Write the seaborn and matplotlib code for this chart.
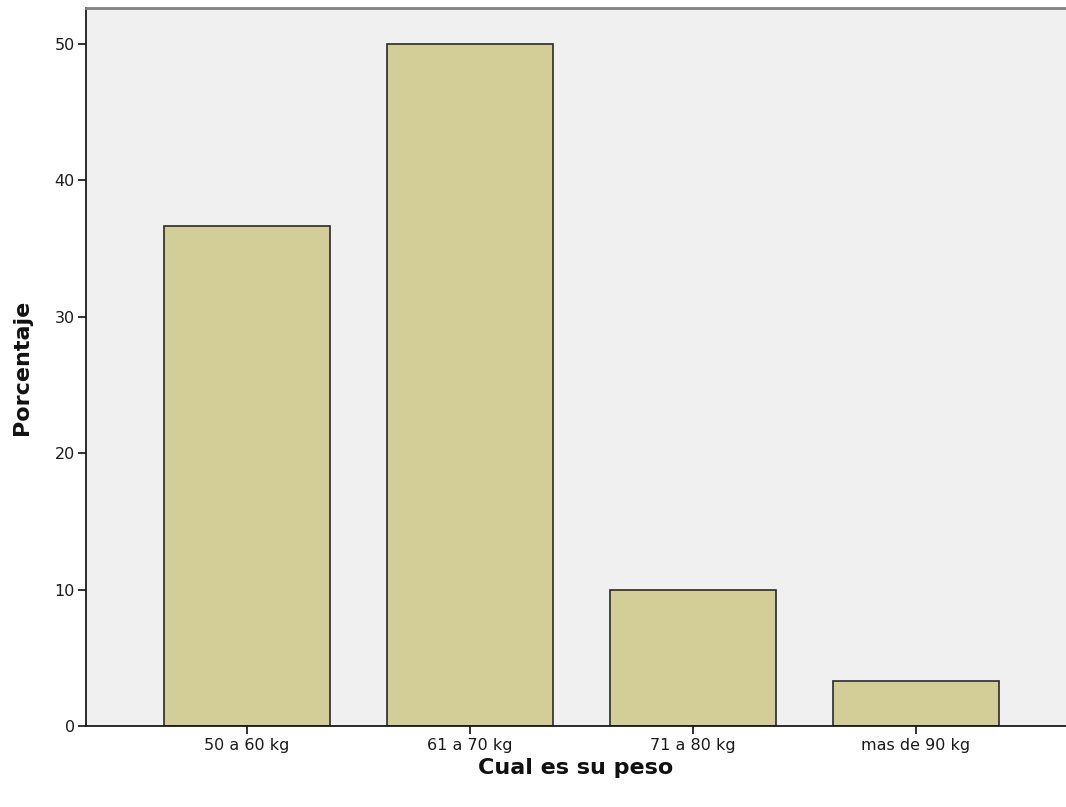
import matplotlib
matplotlib.use("Agg")
import matplotlib.pyplot as plt
import seaborn as sns
import pandas as pd

# Datos
categorias = ["50 a 60 kg", "61 a 70 kg", "71 a 80 kg", "mas de 90 kg"]
porcentajes = [36.67, 50.0, 10.0, 3.33]
yticks = [0, 10, 20, 30, 40, 50]

sns.set_theme(style="white")
plt.rcParams["font.family"] = ["DejaVu Sans"]

df = pd.DataFrame({"peso": categorias, "pct": porcentajes})

fig = plt.figure(figsize=(10.66, 8.07), dpi=100)
ax = fig.add_axes([0.0807, 0.1004, 0.9193, 0.8896])
ax.set_facecolor("#f0f0f0")

sns.barplot(data=df, x="peso", y="pct", color="#d3ce97", saturation=1,
            width=0.745, edgecolor="#2a2a2a", linewidth=1.2, ax=ax)

ax.set_xlim(-0.722, 3.673)
ax.set_ylim(0, 52.64)
ax.set_yticks(yticks)
ax.tick_params(axis="both", direction="out", length=6, width=1.3,
               color="#222222", labelsize=11.5, labelcolor="#1a1a1a",
               bottom=True, left=True, pad=2)
ax.tick_params(axis="x", pad=3)

for side in ["left", "bottom"]:
    ax.spines[side].set_color("#1a1a1a")
    ax.spines[side].set_linewidth(1.3)
ax.spines["top"].set_color("#808080")
ax.spines["top"].set_linewidth(2)
ax.spines["right"].set_visible(False)

ax.set_xlabel("Cual es su peso", fontsize=16, fontweight="bold",
              labelpad=3, color="#111111")
ax.set_ylabel("Porcentaje", fontsize=16, fontweight="bold",
              labelpad=16, color="#111111")

fig.savefig("out.png", dpi=100, facecolor="white")
